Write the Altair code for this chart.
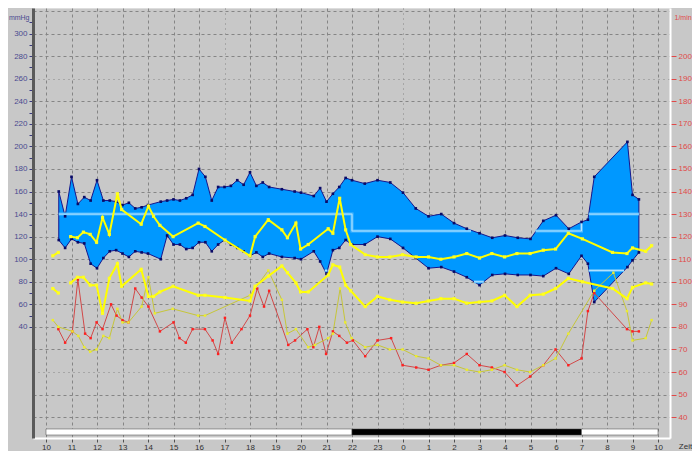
import altair as alt
import pandas as pd

# ---------------- data ----------------
# ambulatory blood pressure measurements (mmHg)
bp_times = ["10:30", "10:45", "11:00", "11:15", "11:30", "11:45", "12:00", "12:15", "12:30", "12:45",
            "13:00", "13:15", "13:30", "13:45", "14:00", "14:30", "14:45", "15:00", "15:15", "15:30",
            "15:45", "16:00", "16:15", "16:30", "16:45", "17:00", "17:15", "17:30", "17:45", "18:00",
            "18:15", "18:30", "18:45", "19:15", "19:45", "20:00", "20:30", "20:45", "21:00", "21:15",
            "21:30", "21:45", "22:00", "22:30", "23:00", "23:30", "00:00", "00:30", "01:00", "01:30",
            "02:00", "02:30", "03:00", "03:30", "04:00", "04:30", "05:00", "05:30", "06:00", "06:30",
            "07:00", "07:15", "07:30", "08:48", "09:00", "09:15"]
systolic = [160, 138, 173, 149, 155, 152, 170, 152, 152, 151,
            148, 150, 145, 146, 148, 151, 152, 153, 152, 154,
            157, 180, 173, 152, 164, 164, 165, 170, 166, 177,
            165, 168, 164, 162, 160, 159, 156, 163, 151, 158,
            164, 172, 170, 167, 170, 168, 159, 145, 138, 140,
            132, 127, 123, 119, 121, 119, 118, 134, 139, 127,
            133, 135, 173, 204, 157, 153]
diastolic = [117, 110, 118, 115, 114, 96, 92, 101, 107, 108,
             105, 102, 107, 106, 105, 100, 121, 113, 113, 109,
             110, 115, 115, 107, 113, 117, 113, 110, 107, 103,
             106, 102, 105, 102, 101, 100, 107, 98, 87, 108,
             110, 117, 113, 113, 120, 118, 110, 101, 92, 93,
             89, 84, 77, 86, 87, 86, 86, 85, 92, 87,
             103, 96, 62, 93, 99, 106]

# limit lines drawn inside the band (mmHg)
limit_times = ["10:30", "22:00", "22:00", "02:40",
               "05:12", "07:00", "07:00",
               "07:17", "09:15",
               "07:17", "08:40",
               "20:56", "21:02",
               "02:47", "03:10"]
limit_values = [140, 140, 125, 125,
                125, 125, 133,
                140, 140,
                90, 90,
                90, 90,
                80, 80]
limit_segment = [0, 0, 0, 0, 1, 1, 1, 2, 2, 3, 3, 4, 4, 5, 5]

# comparison recording: systolic / diastolic (mmHg)
cmp_times = ["10:16", "10:29", "10:58", "11:14", "11:28", "11:44", "11:59", "12:13", "12:29", "12:48",
             "12:58", "13:44", "14:01", "14:13", "14:28", "14:59", "15:58", "16:14", "17:01", "18:00",
             "18:12", "18:43", "19:15", "19:28", "19:48", "19:59", "20:17", "21:04", "21:15", "21:31",
             "21:45", "21:57", "22:31", "23:00", "23:29", "23:59", "00:31", "01:00", "01:29", "02:00",
             "02:30", "03:00", "03:29", "03:59", "04:28", "04:59", "05:30", "05:59", "06:29", "07:02",
             "08:13", "08:47", "09:00", "09:31", "09:45"]
cmp_systolic = [103, 106, 120, 119, 124, 122, 115, 137, 122, 158,
                144, 131, 147, 138, 130, 120, 132, 129, 117, 103,
                120, 135, 126, 119, 132, 109, 113, 127, 123, 154,
                126, 113, 104, 102, 102, 104, 102, 102, 100, 102,
                105, 101, 105, 102, 105, 105, 108, 109, 123, 118,
                106, 105, 110, 107, 112]
cmp_diastolic = [74, 70, 79, 84, 84, 77, 77, 52, 83, 96,
                 76, 91, 67, 67, 71, 76, 68, 68, 66, 63,
                 76, 85, 94, 88, 79, 71, 71, 86, 95, 93,
                 77, 72, 58, 67, 64, 62, 61, 63, 65, 65,
                 61, 62, 63, 68, 58, 68, 69, 74, 83, 80,
                 74, 65, 75, 79, 78]
cmp_segment = [0, 0] + [1] * 53

# heart rate (1/min)
hr_times = ["10:29", "10:45", "11:02", "11:15", "11:32", "11:45", "11:59", "12:13", "12:33", "12:46",
            "13:00", "13:14", "13:30", "13:45", "14:01", "14:28", "15:00", "15:14", "15:29", "15:45",
            "16:14", "16:32", "16:45", "17:01", "17:17", "17:40", "18:00", "18:17", "18:33", "18:45",
            "19:30", "19:46", "20:15", "20:29", "20:43", "20:59", "21:15", "21:30", "21:48", "22:02",
            "22:31", "23:00", "23:32", "23:59", "00:31", "01:00", "01:29", "02:00", "02:30", "03:00",
            "03:29", "03:59", "04:28", "04:59", "05:30", "05:59", "06:29", "07:00", "07:15", "07:30",
            "08:47", "09:00", "09:15"]
heart_rate = [79, 73, 78, 101, 77, 75, 82, 79, 90, 85,
              83, 82, 97, 93, 89, 78, 82, 75, 73, 79,
              79, 74, 68, 84, 73, 79, 85, 97, 89, 96,
              72, 74, 79, 71, 80, 68, 78, 76, 73, 74,
              67, 74, 75, 63, 62, 61, 63, 64, 68, 63,
              62, 60, 54, 58, 63, 70, 63, 66, 87, 95,
              79, 78, 78]

# comparison recording: heart rate (1/min)
cmp_hr_times = ["10:16", "10:29", "11:02", "11:16", "11:30", "11:44", "11:59", "12:15", "12:29", "12:48",
                "13:00", "13:14", "13:45", "14:01", "14:16", "14:58", "15:58", "16:14", "18:00", "18:43",
                "19:15", "19:28", "19:48", "20:17", "20:33", "21:04", "21:15", "21:32", "21:44", "21:59",
                "22:31", "23:00", "23:29", "23:59", "00:31", "01:00", "01:29", "02:00", "02:30", "03:00",
                "03:29", "03:59", "04:28", "04:59", "05:30", "05:59", "06:29", "07:30", "08:15", "08:47",
                "09:00", "09:31", "09:45"]
cmp_heart_rate = [83, 80, 78, 76, 71, 69, 70, 76, 75, 88,
                  82, 82, 89, 102, 86, 88, 85, 85, 94, 105,
                  92, 77, 79, 71, 72, 75, 77, 97, 82, 75,
                  71, 72, 70, 70, 67, 66, 63, 63, 61, 60,
                  61, 63, 61, 60, 63, 66, 77, 96, 104, 87,
                  74, 75, 83]

# day / night bar
phase_names = ["Tag", "Nacht", "Tag"]
phase_start = ["10:00", "22:00", "07:00"]
phase_end = ["22:00", "07:00", "10:00"]

# axis tick values
hour_ticks = list(range(10, 35))
mmhg_ticks = list(range(-40, 330, 10))
rate_ticks = list(range(40, 210, 10))


def clock_to_hours(t):
    hh, mm = (int(p) for p in t.split(":"))
    v = hh + mm / 60.0
    return v + 24 if v < 10 else v


bp = pd.DataFrame({"h": [clock_to_hours(t) for t in bp_times], "sys": systolic, "dia": diastolic})
limits = pd.DataFrame({"h": [clock_to_hours(t) for t in limit_times], "v": limit_values, "seg": limit_segment})
cmp_df = pd.DataFrame({"h": [clock_to_hours(t) for t in cmp_times], "sys": cmp_systolic,
                       "dia": cmp_diastolic, "seg": cmp_segment})
hr = pd.DataFrame({"h": [clock_to_hours(t) for t in hr_times], "v": heart_rate})
cmp_hr = pd.DataFrame({"h": [clock_to_hours(t) for t in cmp_hr_times], "v": cmp_heart_rate})
p_start = [clock_to_hours(t) for t in phase_start]
p_end = [clock_to_hours(t) for t in phase_end]
p_end = [e + 24 if e <= s else e for s, e in zip(p_start, p_end)]
phases = pd.DataFrame({"phase": phase_names, "h": p_start, "h2": p_end})

# ---------------- styling ----------------
BG = "#c8c8c8"
GRID = "#858585"
BAND = "#0098ff"
BAND_EDGE = "#16168c"
LEFT_TXT = "#4a4a90"
RIGHT_TXT = "#e04848"
FONT = "Liberation Sans"

x_scale = alt.Scale(domain=[9.49, 34.47], nice=False, zero=False)
x_axis = alt.Axis(
    values=hour_ticks, labelExpr="datum.value % 24", title="Zeit",
    grid=True, gridColor=GRID, gridWidth=1,
    gridDash={"condition": {"test": "datum.value == 17 || datum.value == 24", "value": [1, 4]},
              "value": [3, 3]},
    domainColor="white", domainWidth=2,
    tickColor="#505050", tickSize=4, tickWidth=1,
    labelFontSize=8, labelColor="#303030", labelPadding=1, labelFont=FONT,
    titleFontSize=8, titleFontWeight="normal", titleColor="#303030", titleFont=FONT,
    titleX=652, titleY=8, titleAlign="center", titleBaseline="middle",
)
X = alt.X("h:Q", scale=x_scale, axis=x_axis)

yL_scale = alt.Scale(domain=[-58.5, 322.66], nice=False, zero=False)
left_axis = alt.Axis(
    orient="left", values=mmhg_ticks, title="mmHg",
    labelExpr="(datum.value % 20 == 0 && datum.value >= 40 && datum.value <= 300) ? datum.value : ''",
    grid=True, gridColor=GRID, gridWidth=1,
    gridDash={"condition": {"test": "datum.value == 260 || datum.value == 0", "value": [1, 4]},
              "value": [3, 3]},
    gridOpacity={"condition": {"test": "datum.value % 20 != 0", "value": 0}, "value": 1},
    tickColor="#3a3a80", tickSize=4, tickWidth=1,
    tickOpacity={"condition": {"test": "datum.value < 40 || datum.value > 310", "value": 0}, "value": 1},
    domainColor="#5a5a5a", domainWidth=3,
    labelColor=LEFT_TXT, labelFontSize=8, labelPadding=2, labelFont=FONT,
    titleAngle=0, titleX=-4, titleY=9, titleAlign="right", titleBaseline="middle",
    titleFontSize=7, titleFontWeight="normal", titleColor=LEFT_TXT, titleFont=FONT,
)
YL = lambda f: alt.Y(f, scale=yL_scale, axis=left_axis)

yR_scale = alt.Scale(domain=[30.75, 221.33], nice=False, zero=False)
right_axis = alt.Axis(
    orient="right", values=rate_ticks, title="1/min", grid=False,
    domainColor="white", domainWidth=2,
    tickColor=RIGHT_TXT, tickSize=6, tickWidth=1,
    labelColor=RIGHT_TXT, labelFontSize=8, labelPadding=2, labelFont=FONT,
    titleAngle=0, titleX=4, titleY=9, titleAlign="left", titleBaseline="middle",
    titleFontSize=7, titleFontWeight="normal", titleColor=RIGHT_TXT, titleFont=FONT,
)
YR = lambda f: alt.Y(f, scale=yR_scale, axis=right_axis)

# ---------------- layers ----------------
band = alt.Chart(bp).mark_area(color=BAND, stroke=BAND_EDGE, strokeWidth=1, opacity=1).encode(
    x=X, y=YL("sys:Q"), y2="dia:Q")
sys_pts = alt.Chart(bp).mark_square(size=7, color="#0a0a66", opacity=1).encode(x=X, y=YL("sys:Q"))
dia_pts = alt.Chart(bp).mark_square(size=7, color="#0a0a66", opacity=1).encode(x=X, y=YL("dia:Q"))
limit_outer = alt.Chart(limits).mark_line(color="#4db8ff", strokeWidth=3).encode(
    x=X, y=YL("v:Q"), detail="seg:N")
limit_inner = alt.Chart(limits).mark_line(color="#b4e4ff", strokeWidth=1).encode(
    x=X, y=YL("v:Q"), detail="seg:N")
daynight = alt.Chart(phases).mark_rect(stroke="#404040", strokeWidth=0.5).encode(
    x=X, x2="h2:Q", y=alt.value(421), y2=alt.value(427),
    color=alt.Color("phase:N", scale=alt.Scale(domain=["Tag", "Nacht"], range=["white", "black"]),
                    legend=None))

left_group = alt.layer(band, limit_outer, limit_inner, sys_pts, dia_pts, daynight)

hr_line = alt.Chart(hr).mark_line(color="#d24848", strokeWidth=1).encode(x=X, y=YR("v:Q"))
hr_pts = alt.Chart(hr).mark_square(size=6, color="#ff2020", opacity=1).encode(x=X, y=YR("v:Q"))
cmp_hr_line = alt.Chart(cmp_hr).mark_line(color="#c6c63a", strokeWidth=1).encode(x=X, y=YR("v:Q"))
cmp_hr_pts = alt.Chart(cmp_hr).mark_square(size=6, color="#ecec30", opacity=1).encode(x=X, y=YR("v:Q"))

right_group = alt.layer(hr_line, cmp_hr_line, hr_pts, cmp_hr_pts)

Yc = lambda f: alt.Y(f, scale=yL_scale, axis=None)
cmp_sys_line = alt.Chart(cmp_df).mark_line(color="#ffff00", strokeWidth=2).encode(
    x=X, y=Yc("sys:Q"), detail="seg:N")
cmp_dia_line = alt.Chart(cmp_df).mark_line(color="#ffff00", strokeWidth=2).encode(
    x=X, y=Yc("dia:Q"), detail="seg:N")
cmp_sys_pts = alt.Chart(cmp_df).mark_square(size=10, color="#ffff20", opacity=1).encode(x=X, y=Yc("sys:Q"))
cmp_dia_pts = alt.Chart(cmp_df).mark_square(size=10, color="#ffff20", opacity=1).encode(x=X, y=Yc("dia:Q"))

cmp_group = alt.layer(cmp_sys_line, cmp_dia_line, cmp_sys_pts, cmp_dia_pts)

chart = alt.layer(left_group, right_group, cmp_group).resolve_scale(y="independent").properties(
    width=637, height=430,
    padding={"left": 25, "top": 0, "right": 22, "bottom": 13},
    autosize=alt.AutoSizeParams(type="none"),
    background=BG,
).configure_view(stroke=None, fill=BG).configure(font=FONT)

chart.save("out.html", embed_options={"renderer": "svg", "actions": False})
